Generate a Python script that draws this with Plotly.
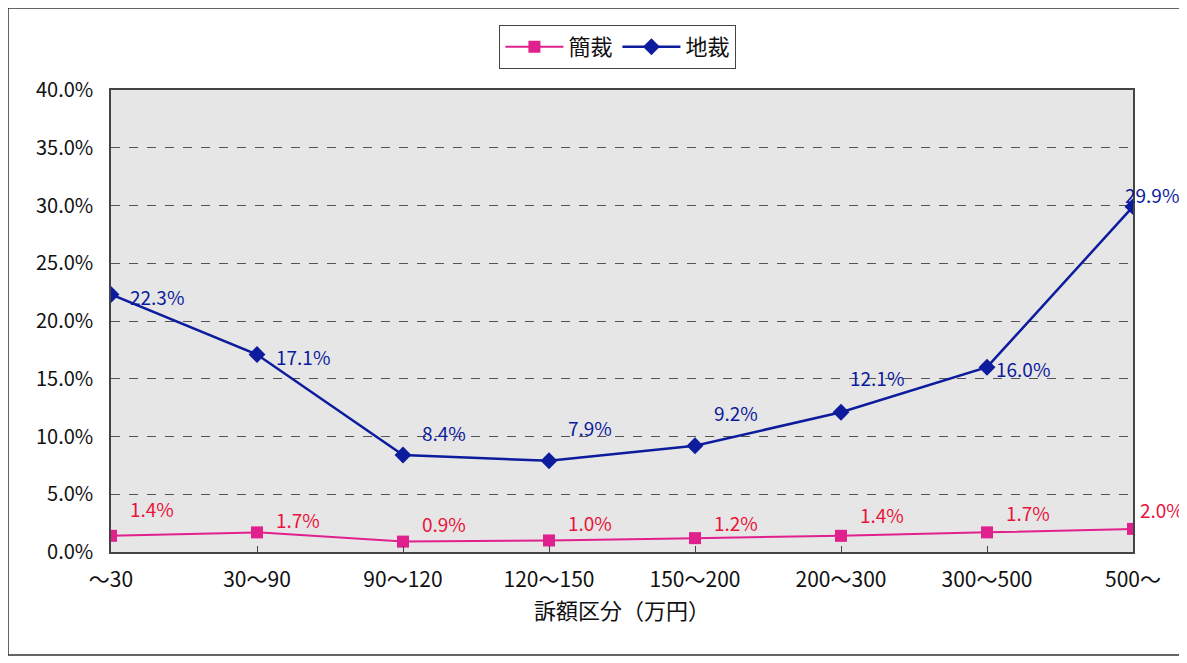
import plotly.graph_objects as go

categories = ["～30", "30～90", "90～120", "120～150", "150～200", "200～300", "300～500", "500～"]
kansai = [1.4, 1.7, 0.9, 1.0, 1.2, 1.4, 1.7, 2.0]
chisai = [22.3, 17.1, 8.4, 7.9, 9.2, 12.1, 16.0, 29.9]
y_ticks = [0, 5, 10, 15, 20, 25, 30, 35, 40]
series_names = ["簡裁", "地裁"]
x_title = "訴額区分（万円）"

# label styling offsets (pixels)
kansai_label_shift = [(17, 27), (17, 13), (17, 18), (17, 18), (17, 16), (17, 21), (17, 20), (5, 19)]
chisai_label_shift = [(17, -2), (17, -2), (17, 22), (17, 33), (17, 33), (7, 35), (7, -1), (-10, 12)]

FONT = "Noto Sans CJK JP, Noto Sans, sans-serif"
PINK = "#e0208c"
PINK_TXT = "#e8143c"
BLUE = "#0c1c9c"
TXT = "#111111"

W, H = 1179, 655
L, T = 103, 82
PW, PH = 1022, 462

x_idx = list(range(len(categories)))

fig = go.Figure()
fig.add_trace(go.Scatter(
    x=x_idx, y=kansai, name=series_names[0], mode="lines+markers",
    line=dict(color=PINK, width=2),
    marker=dict(symbol="square", size=12, color=PINK),
))
fig.add_trace(go.Scatter(
    x=x_idx, y=chisai, name=series_names[1], mode="lines+markers",
    line=dict(color=BLUE, width=2.5),
    marker=dict(symbol="diamond", size=13, color=BLUE),
))

annotations = []
for i, v in enumerate(kansai):
    dx, dy = kansai_label_shift[i]
    annotations.append(dict(x=i, y=v, text=f"{v:.1f}%", showarrow=False, xanchor="left",
                            yanchor="middle", xshift=dx, yshift=dy,
                            font=dict(family=FONT, size=19, color=PINK_TXT)))
for i, v in enumerate(chisai):
    dx, dy = chisai_label_shift[i]
    annotations.append(dict(x=i, y=v, text=f"{v:.1f}%", showarrow=False, xanchor="left",
                            yanchor="middle", xshift=dx, yshift=dy,
                            font=dict(family=FONT, size=19, color=BLUE)))

fig.update_layout(
    width=W, height=H,
    margin=dict(l=L, r=W - L - PW, t=T, b=H - T - PH),
    paper_bgcolor="white",
    plot_bgcolor="#e6e6e6",
    font=dict(family=FONT, size=19, color=TXT),
    showlegend=True,
    legend=dict(orientation="h", x=0.496, xanchor="center", y=(PH + T - 17) / PH, yanchor="top",
                bgcolor="white", bordercolor="#444", borderwidth=1,
                font=dict(family=FONT, size=22, color=TXT),
                itemwidth=58, tracegroupgap=0),
    annotations=annotations,
    xaxis=dict(
        range=[0, len(categories) - 1],
        tickmode="array", tickvals=x_idx, ticktext=categories,
        showgrid=False, zeroline=False,
        showline=True, linecolor="#444", linewidth=1.5, mirror=True,
        ticks="inside", ticklen=6, tickcolor="#444",
        ticklabelstandoff=8,
        tickfont=dict(family=FONT, size=21, color=TXT),
        title=dict(text=x_title, standoff=8, font=dict(family=FONT, size=22, color=TXT)),
    ),
    yaxis=dict(
        range=[0, 40],
        tickmode="array", tickvals=y_ticks, ticktext=[f"{t:.1f}%" for t in y_ticks],
        showgrid=True, gridcolor="#555", griddash="dash", gridwidth=1.2,
        zeroline=False,
        showline=True, linecolor="#444", linewidth=1.5, mirror=True,
        ticks="", ticklabelstandoff=12,
        tickfont=dict(family=FONT, size=20, color=TXT),
    ),
    shapes=[dict(type="rect", xref="paper", yref="paper",
                 x0=(0 - L) / PW, x1=(1172 - L) / PW,
                 y0=(T + PH - 647) / PH, y1=(T + PH - 0) / PH,
                 line=dict(color="#333", width=1.5), fillcolor="rgba(0,0,0,0)", layer="below")],
)

fig.write_html("out.html")
